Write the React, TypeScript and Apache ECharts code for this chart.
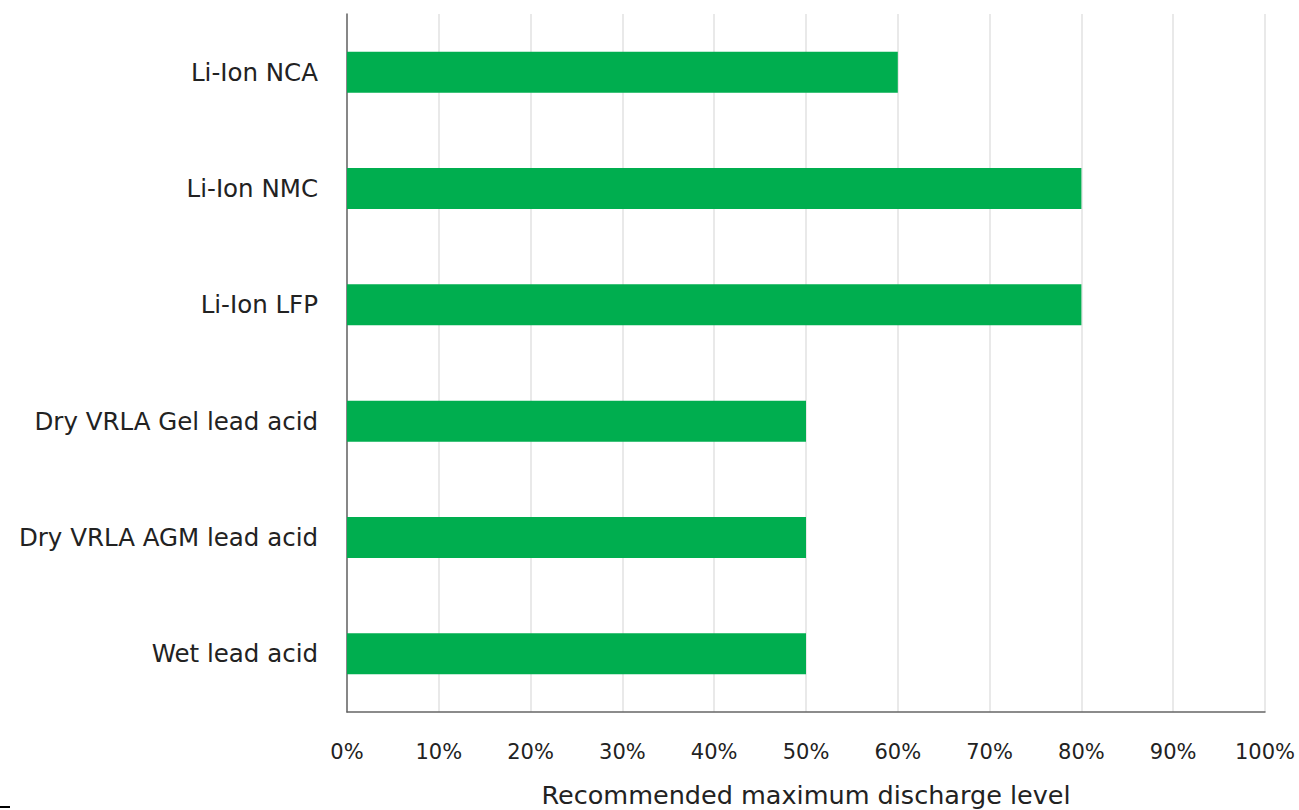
import React, { useEffect, useRef } from "react";
import * as echarts from "echarts";

// Battery chemistries, listed bottom to top as the category axis draws them
const chemistries = [
  "Wet lead acid",
  "Dry VRLA AGM lead acid",
  "Dry VRLA Gel lead acid",
  "Li-Ion LFP",
  "Li-Ion NMC",
  "Li-Ion NCA",
];

// Recommended maximum depth of discharge, percent
const dischargeLevels = [50, 50, 50, 80, 80, 60];

const axisTitle = "Recommended maximum discharge level";

const FONT = "'DejaVu Sans', 'Noto Sans', sans-serif";

export default function App() {
  const ref = useRef<HTMLDivElement>(null);

  useEffect(() => {
    if (!ref.current) return;
    const chart = echarts.init(ref.current, undefined, { renderer: "svg" });
    chart.setOption({
      animation: false,
      backgroundColor: "#ffffff",
      grid: {
        left: 347,
        right: 34,
        top: 14,
        bottom: 98,
        containLabel: false,
        outerBoundsMode: "none",
      },
      xAxis: {
        type: "value",
        min: 0,
        max: 100,
        interval: 10,
        name: axisTitle,
        nameLocation: "middle",
        nameGap: 70,
        nameTextStyle: { fontFamily: FONT, fontSize: 25.5, color: "#222222" },
        axisLine: { show: true, lineStyle: { color: "#666666", width: 1.5 } },
        axisTick: { show: false },
        axisLabel: {
          formatter: "{value}%",
          fontFamily: FONT,
          fontSize: 21,
          color: "#222222",
          margin: 29,
        },
        splitLine: { show: true, lineStyle: { color: "#e2e2e2", width: 1.5 } },
      },
      yAxis: {
        type: "category",
        data: chemistries,
        axisLine: { show: true, lineStyle: { color: "#666666", width: 1.5 } },
        axisTick: { show: false },
        axisLabel: {
          fontFamily: FONT,
          fontSize: 24.5,
          color: "#222222",
          margin: 29,
        },
      },
      series: [
        {
          type: "bar",
          data: dischargeLevels,
          barWidth: 41,
          itemStyle: { color: "#00ae4f" },
        },
      ],
      graphic: [
        {
          type: "rect",
          left: 0,
          top: 806,
          shape: { width: 10, height: 2 },
          style: { fill: "#000000" },
        },
      ],
    });
    return () => chart.dispose();
  }, []);

  return <div ref={ref} style={{ width: 1299, height: 810, position: "absolute", left: 0, top: 0 }} />;
}
